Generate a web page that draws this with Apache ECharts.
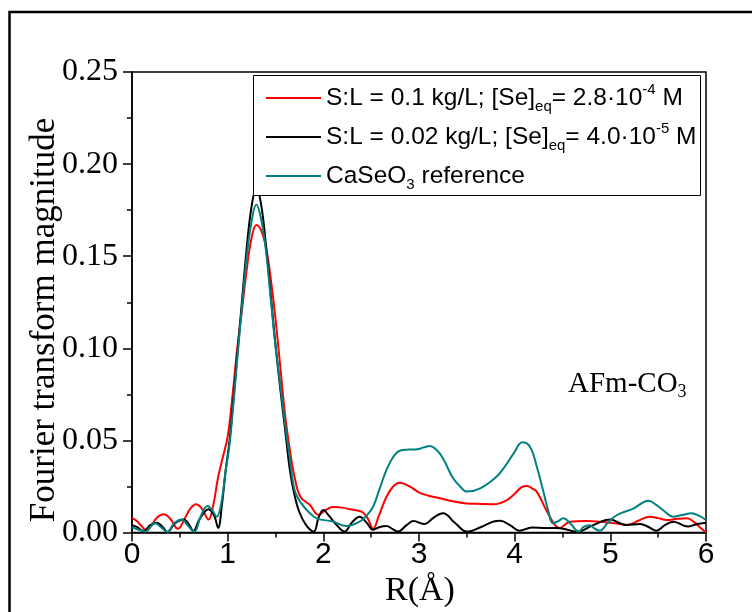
<!DOCTYPE html>
<html>
<head>
<meta charset="utf-8">
<script src="https://cdn.jsdelivr.net/npm/echarts@6/dist/echarts.min.js"></script>
<style>html,body{margin:0;padding:0;background:#fff}#c{width:752px;height:612px}</style>
</head>
<body>
<div id="c"></div>
<script>
// ---- data ----
const redR   = [0.00,0.05,0.10,0.15,0.20,0.26,0.33,0.40,0.48,0.55,0.61,0.67,0.73,0.80,0.85,0.90,0.95,1.00,1.05,1.10,1.15,1.20,1.25,1.30,1.35,1.40,1.45,1.50,1.55,1.60,1.65,1.70,1.76,1.86,1.95,2.02,2.10,2.20,2.28,2.40,2.46,2.52,2.58,2.66,2.73,2.80,2.90,3.01,3.10,3.22,3.35,3.50,3.65,3.78,3.85,3.92,4.00,4.07,4.13,4.18,4.23,4.33,4.42,4.47,4.52,4.58,4.75,4.89,5.05,5.17,5.30,5.41,5.50,5.59,5.70,5.80,5.88,5.95,6.00];
const redVal = [0.0080,0.0062,0.0035,0.0010,0.0035,0.0080,0.0099,0.0075,0.0020,0.0075,0.0130,0.0153,0.0130,0.0070,0.0150,0.0300,0.0410,0.0520,0.0740,0.1000,0.1210,0.1430,0.1600,0.1670,0.1640,0.1550,0.1380,0.1160,0.0900,0.0640,0.0450,0.0300,0.0194,0.0149,0.0095,0.0120,0.0138,0.0135,0.0126,0.0113,0.0080,0.0020,0.0090,0.0194,0.0250,0.0270,0.0250,0.0215,0.0200,0.0186,0.0170,0.0158,0.0155,0.0153,0.0160,0.0176,0.0210,0.0245,0.0252,0.0240,0.0222,0.0122,0.0041,0.0023,0.0040,0.0059,0.0062,0.0059,0.0050,0.0041,0.0065,0.0086,0.0078,0.0068,0.0074,0.0077,0.0055,0.0022,0.0000];

const blackR   = [0.00,0.05,0.12,0.19,0.26,0.32,0.37,0.45,0.54,0.60,0.64,0.71,0.80,0.86,0.90,0.94,0.98,1.02,1.06,1.10,1.15,1.20,1.25,1.30,1.35,1.40,1.45,1.50,1.55,1.60,1.65,1.70,1.75,1.82,1.90,1.95,2.00,2.06,2.14,2.22,2.30,2.38,2.45,2.52,2.59,2.66,2.72,2.78,2.87,2.94,3.06,3.15,3.25,3.38,3.50,3.65,3.78,3.85,3.95,4.05,4.18,4.30,4.44,4.55,4.65,4.82,5.00,5.10,5.17,5.31,5.40,5.48,5.57,5.66,5.81,5.90,6.00];
const blackVal = [0.0040,0.0030,0.0008,0.0040,0.0053,0.0030,0.0003,0.0050,0.0071,0.0040,0.0008,0.0075,0.0126,0.0090,0.0025,0.0150,0.0340,0.0500,0.0720,0.0960,0.1260,0.1550,0.1770,0.1870,0.1780,0.1560,0.1290,0.1020,0.0780,0.0560,0.0340,0.0200,0.0110,0.0040,0.0005,0.0080,0.0122,0.0090,0.0040,0.0005,0.0055,0.0086,0.0055,0.0015,0.0030,0.0035,0.0020,0.0005,0.0040,0.0062,0.0046,0.0080,0.0104,0.0050,0.0005,0.0030,0.0060,0.0064,0.0040,0.0010,0.0027,0.0025,0.0024,0.0015,0.0004,0.0040,0.0071,0.0050,0.0041,0.0046,0.0030,0.0010,0.0040,0.0059,0.0032,0.0045,0.0053];

const tealR   = [0.00,0.07,0.14,0.19,0.24,0.30,0.37,0.44,0.52,0.58,0.65,0.72,0.79,0.84,0.885,0.93,0.98,1.02,1.06,1.10,1.15,1.20,1.25,1.30,1.35,1.40,1.45,1.50,1.55,1.60,1.65,1.70,1.77,1.85,1.93,2.10,2.24,2.38,2.45,2.52,2.59,2.66,2.73,2.80,2.90,2.98,3.05,3.11,3.18,3.25,3.35,3.43,3.50,3.64,3.81,3.90,3.99,4.08,4.16,4.23,4.30,4.35,4.40,4.45,4.51,4.58,4.67,4.72,4.78,4.84,4.89,4.97,5.07,5.24,5.40,5.48,5.55,5.66,5.75,5.85,5.93,6.00];
const tealVal = [0.0028,0.0015,0.0005,0.0030,0.0050,0.0030,0.0003,0.0050,0.0071,0.0040,0.0005,0.0090,0.0144,0.0120,0.0086,0.0150,0.0340,0.0480,0.0700,0.0940,0.1230,0.1500,0.1690,0.1780,0.1700,0.1530,0.1270,0.1010,0.0800,0.0590,0.0400,0.0230,0.0158,0.0110,0.0077,0.0059,0.0035,0.0059,0.0090,0.0140,0.0240,0.0340,0.0410,0.0444,0.0450,0.0452,0.0462,0.0470,0.0450,0.0403,0.0300,0.0250,0.0222,0.0240,0.0303,0.0360,0.0430,0.0490,0.0466,0.0360,0.0222,0.0120,0.0050,0.0060,0.0077,0.0050,0.0005,0.0030,0.0040,0.0020,0.0010,0.0050,0.0095,0.0130,0.0173,0.0150,0.0122,0.0086,0.0095,0.0104,0.0090,0.0068];

const seriesNames = [
  'S:L = 0.1 kg/L; [Se]eq= 2.8·10-4 M',
  'S:L = 0.02 kg/L; [Se]eq= 4.0·10-5 M',
  'CaSeO3 reference'
];
const legendRich = {
  [seriesNames[0]]: 'S:L = 0.1 kg/L; [Se]{sub|eq}= 2.8·10{sup|-4} M',
  [seriesNames[1]]: 'S:L = 0.02 kg/L; [Se]{sub|eq}= 4.0·10{sup|-5} M',
  [seriesNames[2]]: 'CaSeO{sub|3} reference'
};
const xTicks = {min: 0, max: 6, step: 1};
const yTicks = {min: 0, max: 0.25, step: 0.05};
const annotation = 'AFm-CO';
const annotationSub = '3';
const xName = 'R(Å)';
const yName = 'Fourier transform magnitude';

function pairs(xs, ys){ return xs.map((x,i)=>[x, ys[i]]); }

const SERIF = '"Liberation Serif","Times New Roman",serif';
const SANS = '"Liberation Sans",Arial,sans-serif';
const colors = ['#ff0000', '#000000', '#008080'];

const chart = echarts.init(document.getElementById('c'), null, {renderer: 'canvas'});
const G = {left: 132, right: 46, top: 72, bottom: 79.5};

chart.setOption({
  animation: false,
  backgroundColor: '#fff',
  grid: {left: G.left, right: G.right, top: G.top, bottom: G.bottom, show: true, borderColor: '#000', borderWidth: 1.5, backgroundColor: 'transparent'},
  xAxis: {
    type: 'value', min: xTicks.min, max: xTicks.max, interval: xTicks.step,
    axisLine: {show: true, onZero: false, lineStyle: {color: '#000', width: 1.5}},
    axisTick: {show: true, inside: false, length: 9, lineStyle: {color: '#000', width: 1.5}},
    minorTick: {show: true, splitNumber: 2, length: 5, lineStyle: {color: '#000', width: 1.5}},
    splitLine: {show: false},
    axisLabel: {color: '#000', fontFamily: SANS, fontSize: 30, margin: 7}
  },
  yAxis: {
    type: 'value', min: yTicks.min, max: yTicks.max, interval: yTicks.step,
    axisLine: {show: true, onZero: false, lineStyle: {color: '#000', width: 1.5}},
    axisTick: {show: true, inside: false, length: 9, lineStyle: {color: '#000', width: 1.5}},
    minorTick: {show: true, splitNumber: 2, length: 5, lineStyle: {color: '#000', width: 1.5}},
    splitLine: {show: false},
    axisLabel: {color: '#000', fontFamily: SERIF, fontSize: 32, margin: 14, formatter: v => v.toFixed(2)}
  },
  legend: {
    z: 20,
    orient: 'vertical', left: 266, top: 82, padding: 0,
    itemWidth: 55, itemHeight: 2, itemGap: 7, icon: 'rect',
    data: seriesNames,
    formatter: n => legendRich[n],
    textStyle: {
      color: '#000', fontFamily: SANS, fontSize: 24.5, lineHeight: 32,
      rich: {
        sub: {fontFamily: SANS, fontSize: 15, lineHeight: 16, verticalAlign: 'bottom', color: '#000'},
        sup: {fontFamily: SANS, fontSize: 15, lineHeight: 16, verticalAlign: 'top', color: '#000'}
      }
    }
  },
  graphic: [
    {type: 'rect', z: 10, shape: {x: 253.5, y: 75.5, width: 447, height: 120}, style: {fill: '#fff', stroke: '#000', lineWidth: 1}},
    {type: 'rect', z: 30, shape: {x: 9.5, y: 12, width: 800, height: 700}, style: {fill: null, stroke: '#000', lineWidth: 2.5}},
    {type: 'text', z: 30, x: 45, y: 320, rotation: Math.PI/2,
      style: {text: yName, font: '35px ' + SERIF, fill: '#000', textAlign: 'center', textVerticalAlign: 'middle'}},
    {type: 'text', z: 30, x: 420, y: 591,
      style: {text: xName, font: '34px ' + SERIF, fill: '#000', textAlign: 'center', textVerticalAlign: 'middle'}},
    {type: 'text', z: 30, x: 568, y: 384,
      style: {text: '{a|' + annotation + '}{s|' + annotationSub + '}', fill: '#000', textAlign: 'left', textVerticalAlign: 'middle',
        rich: {a: {fontFamily: SERIF, fontSize: 29, lineHeight: 34, fill: '#000'},
               s: {fontFamily: SERIF, fontSize: 18, lineHeight: 18, verticalAlign: 'bottom', fill: '#000'}}}}
  ],
  series: [
    {name: seriesNames[0], type: 'line', data: pairs(redR, redVal), smooth: 0.4, symbol: 'none', z: 3, color: colors[0], lineStyle: {color: colors[0], width: 2}},
    {name: seriesNames[1], type: 'line', data: pairs(blackR, blackVal), smooth: 0.4, symbol: 'none', z: 3, color: colors[1], lineStyle: {color: colors[1], width: 2}},
    {name: seriesNames[2], type: 'line', data: pairs(tealR, tealVal), smooth: 0.4, symbol: 'none', z: 3, color: colors[2], lineStyle: {color: colors[2], width: 2}}
  ]
});
</script>
</body>
</html>
